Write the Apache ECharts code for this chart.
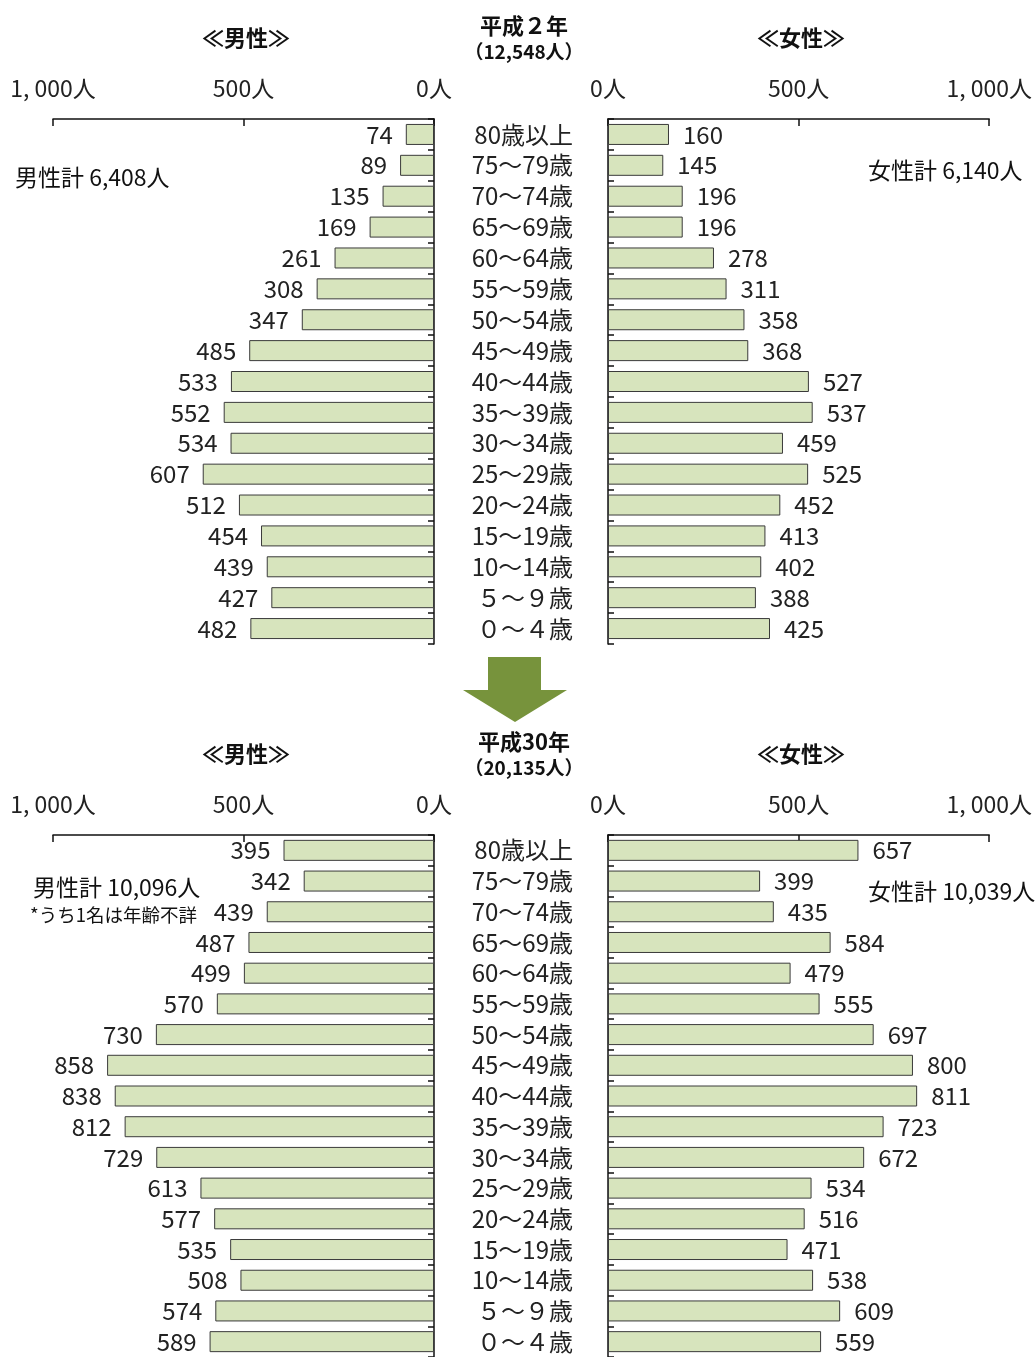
<!DOCTYPE html>
<html>
<head>
<meta charset="utf-8">
<title>年齢別人口</title>
<script src="https://cdn.jsdelivr.net/npm/echarts@6/dist/echarts.min.js"></script>
<style>
  html, body { margin: 0; padding: 0; background: #fff; }
  #chart { width: 1035px; height: 1357px; }
</style>
</head>
<body>
<div id="chart"></div>
<script>
// Age groups, oldest at the top
const ageGroups = ['80歳以上', '75～79歳', '70～74歳', '65～69歳', '60～64歳', '55～59歳',
  '50～54歳', '45～49歳', '40～44歳', '35～39歳', '30～34歳', '25～29歳', '20～24歳',
  '15～19歳', '10～14歳', '５～９歳', '０～４歳'];

// 平成2年
const maleH2 = [74, 89, 135, 169, 261, 308, 347, 485, 533, 552, 534, 607, 512, 454, 439, 427, 482];
const femaleH2 = [160, 145, 196, 196, 278, 311, 358, 368, 527, 537, 459, 525, 452, 413, 402, 388, 425];

// 平成30年
const maleH30 = [395, 342, 439, 487, 499, 570, 730, 858, 838, 812, 729, 613, 577, 535, 508, 574, 589];
const femaleH30 = [657, 399, 435, 584, 479, 555, 697, 800, 811, 723, 672, 534, 516, 471, 538, 609, 559];

const axisTicks = [0, 500, 1000];

const FONT = '"Noto Sans CJK JP", "Noto Sans", sans-serif';
const INK = '#222';
const BAR_FILL = '#d7e4bd';
const BAR_EDGE = '#3a3a3a';

const grids = [
  { left: 53, top: 119, width: 381, height: 525 },   // 平成2年 男性
  { left: 608, top: 119, width: 382, height: 525 },  // 平成2年 女性
  { left: 53, top: 835, width: 381, height: 525 },   // 平成30年 男性
  { left: 608, top: 835, width: 382, height: 525 }   // 平成30年 女性
];

function valueAxis(gridIndex, isMale) {
  return {
    type: 'value', gridIndex, position: 'top', inverse: isMale,
    min: axisTicks[0], max: axisTicks[axisTicks.length - 1], interval: axisTicks[1] - axisTicks[0],
    axisLine: { show: true, lineStyle: { color: '#111', width: 1.5 } },
    axisTick: { show: true, inside: true, length: 7, lineStyle: { color: '#111', width: 1.5 } },
    splitLine: { show: false },
    axisLabel: {
      margin: 19, fontFamily: FONT, fontSize: 23, color: INK,
      formatter: v => (v >= 1000 ? '1, ' + String(v).slice(1) : String(v)) + '人'
    }
  };
}

function categoryAxis(gridIndex, isMale) {
  return {
    type: 'category', gridIndex, data: ageGroups, inverse: true,
    position: isMale ? 'right' : 'left',
    axisLine: { show: true, lineStyle: { color: '#111', width: 1.5 } },
    axisTick: { show: true, inside: true, length: 6, lineStyle: { color: '#111', width: 1.5 } },
    axisLabel: {
      show: !isMale, interval: 0, margin: 35, fontFamily: FONT, fontSize: 24, color: INK
    }
  };
}

function barSeries(name, data, idx, isMale) {
  return {
    name, type: 'bar', data, xAxisIndex: idx, yAxisIndex: idx,
    barWidth: 21,
    itemStyle: { color: BAR_FILL, borderColor: BAR_EDGE, borderWidth: 1 },
    label: {
      show: true, position: isMale ? 'left' : 'right', distance: isMale ? 13 : 14,
      fontFamily: FONT, fontSize: 24, color: INK
    },
    silent: true
  };
}

function text(x, y, str, size, opts) {
  return {
    type: 'text', x, y,
    style: Object.assign({
      text: str, fontFamily: FONT, fontSize: size, fill: '#111',
      textAlign: 'center', textVerticalAlign: 'middle'
    }, opts || {})
  };
}

const chart = echarts.init(document.getElementById('chart'), null, { renderer: 'canvas' });
chart.setOption({
  backgroundColor: '#fff',
  animation: false,
  grid: grids,
  xAxis: [valueAxis(0, true), valueAxis(1, false), valueAxis(2, true), valueAxis(3, false)],
  yAxis: [categoryAxis(0, true), categoryAxis(1, false), categoryAxis(2, true), categoryAxis(3, false)],
  series: [
    barSeries('平成2年 男性', maleH2, 0, true),
    barSeries('平成2年 女性', femaleH2, 1, false),
    barSeries('平成30年 男性', maleH30, 2, true),
    barSeries('平成30年 女性', femaleH30, 3, false)
  ],
  graphic: [
    // 平成2年 headings
    text(524, 26, '平成２年', 22, { fontWeight: 'bold' }),
    text(524, 52, '（12,548人）', 19, { fontWeight: 'bold' }),
    text(246, 38, '≪男性≫', 22, { fontWeight: 'bold' }),
    text(801, 38, '≪女性≫', 22, { fontWeight: 'bold' }),
    text(15, 177, '男性計 6,408人', 23, { textAlign: 'left' }),
    text(868, 170, '女性計 6,140人', 23, { textAlign: 'left' }),

    // arrow between the two periods
    {
      type: 'polygon',
      shape: { points: [[488, 657], [541, 657], [541, 690], [567, 690], [515, 722], [463, 690], [488, 690]] },
      style: { fill: '#77933c' }
    },

    // 平成30年 headings
    text(524, 742, '平成30年', 22, { fontWeight: 'bold' }),
    text(524, 768, '（20,135人）', 19, { fontWeight: 'bold' }),
    text(246, 754, '≪男性≫', 22, { fontWeight: 'bold' }),
    text(801, 754, '≪女性≫', 22, { fontWeight: 'bold' }),
    text(33, 887, '男性計 10,096人', 23, { textAlign: 'left' }),
    text(30, 915, '*うち1名は年齢不詳', 18.5, { textAlign: 'left' }),
    text(868, 891, '女性計 10,039人', 23, { textAlign: 'left' })
  ]
});
</script>
</body>
</html>
